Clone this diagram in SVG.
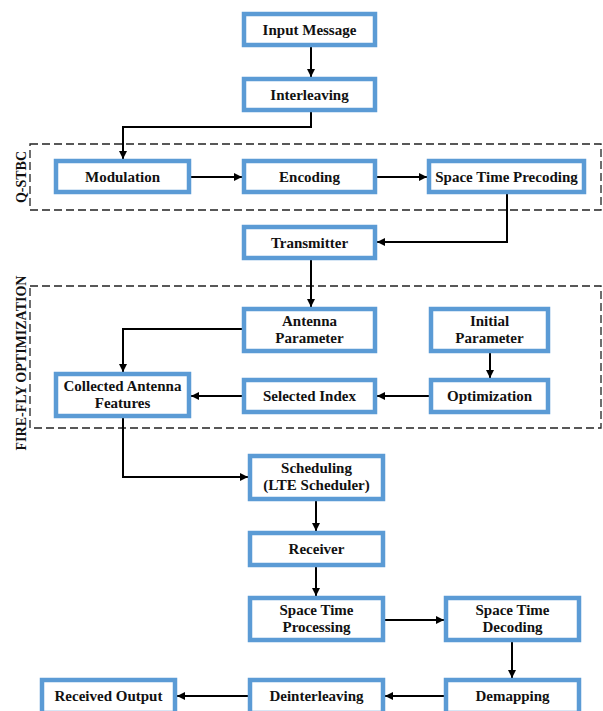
<svg xmlns="http://www.w3.org/2000/svg" width="603" height="711" viewBox="0 0 603 711">
<style>
.box{fill:#fff;stroke:#5b9bd5;stroke-width:4.5}
.t{font-family:"Liberation Serif","Times New Roman",serif;font-weight:bold;font-size:15px;fill:#111;text-anchor:middle}
.lbl{font-family:"Liberation Serif","Times New Roman",serif;font-weight:bold;font-size:14px;fill:#111;text-anchor:middle}
.c{fill:none;stroke:#000;stroke-width:2;marker-end:url(#ah)}
.grp{fill:none;stroke:#222;stroke-width:1.3;stroke-dasharray:8 4}
</style>
<defs>
<marker id="ah" viewBox="0 0 10 10" refX="10" refY="5" markerWidth="9" markerHeight="8" markerUnits="userSpaceOnUse" orient="auto">
<path d="M0,0 L10,5 L0,10 z" fill="#000"/>
</marker>
</defs>
<rect width="603" height="711" fill="#fff"/>
<g id="groups">
<rect class="grp" x="30" y="144" width="571" height="66"/>
<rect class="grp" x="30" y="286" width="571" height="142"/>
<text class="lbl" transform="translate(26,177) rotate(-90)">Q-STBC</text>
<text class="lbl" transform="translate(26,363) rotate(-90)">FIRE-FLY OPTIMIZATION</text>
</g>
<g id="connectors">
<path class="c" d="M311,47 V77"/>
<path class="c" d="M311,112 V127 H123 V159"/>
<path class="c" d="M191,177 H242"/>
<path class="c" d="M377,177 H427"/>
<path class="c" d="M507,194 V242 H377"/>
<path class="c" d="M311,260 V307"/>
<path class="c" d="M242,329 H123 V372"/>
<path class="c" d="M490,353 V378"/>
<path class="c" d="M429,396 H377"/>
<path class="c" d="M242,396 H191"/>
<path class="c" d="M123,418 V477 H248"/>
<path class="c" d="M316,501 V531"/>
<path class="c" d="M316,567 V596"/>
<path class="c" d="M385,620 H444"/>
<path class="c" d="M512,642 V678"/>
<path class="c" d="M444,696 H385"/>
<path class="c" d="M248,696 H177"/>
</g>
<g id="input-message"><rect class="box" x="244" y="14" width="131" height="31"/><text class="t" x="309.5" y="34.5">Input Message</text></g>
<g id="interleaving"><rect class="box" x="244" y="79" width="131" height="31"/><text class="t" x="309.5" y="99.5">Interleaving</text></g>
<g id="modulation"><rect class="box" x="56" y="161" width="133" height="31"/><text class="t" x="122.5" y="181.5">Modulation</text></g>
<g id="encoding"><rect class="box" x="244" y="161" width="131" height="31"/><text class="t" x="309.5" y="181.5">Encoding</text></g>
<g id="space-time-precoding"><rect class="box" x="429" y="161" width="155" height="31"/><text class="t" x="506.5" y="181.5">Space Time Precoding</text></g>
<g id="transmitter"><rect class="box" x="244" y="227" width="131" height="31"/><text class="t" x="309.5" y="247.5">Transmitter</text></g>
<g id="antenna-parameter"><rect class="box" x="244" y="309" width="131" height="42"/><text class="t" x="309.5" y="326">Antenna</text><text class="t" x="309.5" y="343">Parameter</text></g>
<g id="initial-parameter"><rect class="box" x="431" y="309" width="117" height="42"/><text class="t" x="489.5" y="326">Initial</text><text class="t" x="489.5" y="343">Parameter</text></g>
<g id="collected-antenna-features"><rect class="box" x="56" y="374" width="133" height="42"/><text class="t" x="122.5" y="391">Collected Antenna</text><text class="t" x="122.5" y="408">Features</text></g>
<g id="selected-index"><rect class="box" x="244" y="380" width="131" height="32"/><text class="t" x="309.5" y="401">Selected Index</text></g>
<g id="optimization"><rect class="box" x="431" y="380" width="117" height="32"/><text class="t" x="489.5" y="401">Optimization</text></g>
<g id="scheduling"><rect class="box" x="250" y="456" width="133" height="43"/><text class="t" x="316.5" y="473">Scheduling</text><text class="t" x="316.5" y="490">(LTE Scheduler)</text></g>
<g id="receiver"><rect class="box" x="250" y="533" width="133" height="32"/><text class="t" x="316.5" y="554">Receiver</text></g>
<g id="space-time-processing"><rect class="box" x="250" y="598" width="133" height="42"/><text class="t" x="316.5" y="615">Space Time</text><text class="t" x="316.5" y="632">Processing</text></g>
<g id="space-time-decoding"><rect class="box" x="446" y="598" width="133" height="42"/><text class="t" x="512.5" y="615">Space Time</text><text class="t" x="512.5" y="632">Decoding</text></g>
<g id="demapping"><rect class="box" x="446" y="680" width="133" height="33"/><text class="t" x="512.5" y="701">Demapping</text></g>
<g id="deinterleaving"><rect class="box" x="250" y="680" width="133" height="33"/><text class="t" x="316.5" y="701">Deinterleaving</text></g>
<g id="received-output"><rect class="box" x="42" y="680" width="133" height="33"/><text class="t" x="108.5" y="701">Received Output</text></g>
</svg>
